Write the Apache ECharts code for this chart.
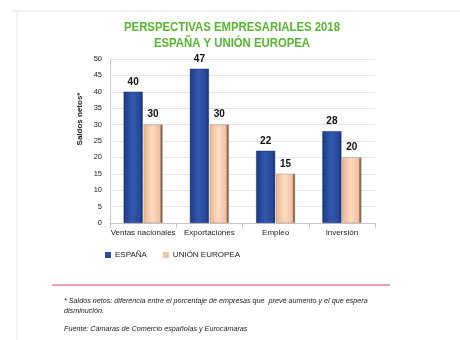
<!DOCTYPE html>
<html><head><meta charset="utf-8">
<script src="https://cdn.jsdelivr.net/npm/echarts@6/dist/echarts.min.js"></script>
<style>html,body{margin:0;padding:0;background:#fff}#c{width:460px;height:340px}</style>
</head><body><div id="c"></div>
<script>
const categories = ['Ventas nacionales', 'Exportaciones', 'Empleo', 'Inversión'];
const espana = [40, 47, 22, 28];
const unionEuropea = [30, 30, 15, 20];
const yTicks = {min: 0, max: 50, interval: 5};

const chart = echarts.init(document.getElementById('c'), null, {renderer: 'canvas'});
const blueGrad = new echarts.graphic.LinearGradient(0, 0, 1, 0, [
  {offset: 0, color: '#1c3a86'}, {offset: 0.45, color: '#3258ad'}, {offset: 0.85, color: '#27489a'}, {offset: 1, color: '#162e6c'}]);
const peachGrad = new echarts.graphic.LinearGradient(0, 0, 1, 0, [
  {offset: 0, color: '#eeb48c'}, {offset: 0.45, color: '#fbdcc4'}, {offset: 0.85, color: '#f2c19f'}, {offset: 0.92, color: '#8c6a55'}, {offset: 1, color: '#6d5444'}]);
const labelStyle = {show: true, position: 'top', distance: 5, fontSize: 10, fontWeight: 'bold', color: '#111', fontFamily: 'Liberation Sans, Arial'};
chart.setOption({
  animation: false,
  legend: {
    left: 100, top: 246, itemWidth: 6, itemHeight: 6, itemGap: 16, icon: 'rect',
    itemStyle: {borderWidth: 0},
    textStyle: {fontSize: 8, color: '#222', fontFamily: 'Liberation Sans, Arial', padding: [0, 0, 0, -1]},
    data: [{name: 'ESPAÑA', itemStyle: {color: '#2b4d9e', borderWidth: 0}}, {name: 'UNIÓN EUROPEA', itemStyle: {color: '#f3c4a0', borderWidth: 0}}]
  },
  grid: {left: 110, right: 85, top: 59, bottom: 117},
  xAxis: {
    type: 'category', data: categories,
    axisLine: {lineStyle: {color: '#c8c8c8'}}, axisTick: {show: true, lineStyle: {color: '#c8c8c8'}},
    axisLabel: {interval: 0, fontSize: 8, color: '#222', fontFamily: 'Liberation Sans, Arial', margin: 6}
  },
  yAxis: {
    type: 'value', min: yTicks.min, max: yTicks.max, interval: yTicks.interval,
    axisLine: {show: true, lineStyle: {color: '#c8c8c8'}}, axisTick: {show: false},
    splitLine: {lineStyle: {color: '#e6e6e6'}},
    axisLabel: {fontSize: 7.5, color: '#222', fontFamily: 'Liberation Sans, Arial', margin: 8}
  },
  series: [
    {name: 'ESPAÑA', type: 'bar', data: espana, barWidth: 19, barGap: '5%', barCategoryGap: '41%',
     itemStyle: {color: blueGrad, borderColor: '#142a66', borderWidth: 0.5}, label: labelStyle},
    {name: 'UNIÓN EUROPEA', type: 'bar', data: unionEuropea, barWidth: 19,
     itemStyle: {color: peachGrad, borderColor: '#b08a70', borderWidth: 0.5}, label: labelStyle}
  ],
  graphic: [
    {type: 'line', shape: {x1: 12, y1: 11, x2: 460, y2: 11}, style: {stroke: '#eeeeee', lineWidth: 1.5}},
    {type: 'line', shape: {x1: 17, y1: 11, x2: 17, y2: 340}, style: {stroke: '#eeeeee', lineWidth: 1.5}},
    {type: 'text', x: 232, y: 27, scaleX: 0.84,
     style: {text: 'PERSPECTIVAS EMPRESARIALES 2018', fontSize: 13.5, fontWeight: 'bold', fill: '#58b530', fontFamily: 'Liberation Sans, Arial', align: 'center', verticalAlign: 'middle'}},
    {type: 'text', x: 232, y: 43, scaleX: 0.84,
     style: {text: 'ESPAÑA Y UNIÓN EUROPEA', fontSize: 13.5, fontWeight: 'bold', fill: '#58b530', fontFamily: 'Liberation Sans, Arial', align: 'center', verticalAlign: 'middle'}},
    {type: 'text', x: 80, y: 119, rotation: Math.PI / 2,
     style: {text: 'Saldos netos*', fontSize: 8, fontWeight: 'bold', fill: '#222', fontFamily: 'Liberation Sans, Arial', align: 'center', verticalAlign: 'middle'}},
    {type: 'line', shape: {x1: 52, y1: 285, x2: 390, y2: 285}, style: {stroke: '#d6416c', lineWidth: 1.2}},
    {type: 'text', x: 64, y: 296,
     style: {text: '* Saldos netos: diferencia entre el porcentaje de empresas que  prevé aumento y el que espera\ndisminución.', fontSize: 7.2, fontStyle: 'italic', fill: '#222', lineHeight: 10, fontFamily: 'Liberation Sans, Arial'}},
    {type: 'text', x: 64, y: 325,
     style: {text: 'Fuente: Cámaras de Comercio españolas y Eurocámaras', fontSize: 7.2, fontStyle: 'italic', fill: '#222', fontFamily: 'Liberation Sans, Arial'}}
  ]
});
</script></body></html>
